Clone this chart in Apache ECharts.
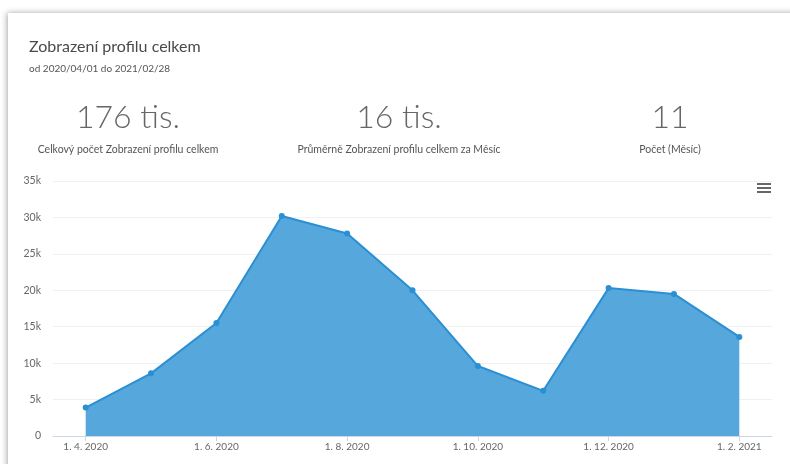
<!DOCTYPE html>
<html>
<head>
<meta charset="utf-8">
<script src="https://cdn.jsdelivr.net/npm/echarts@6/dist/echarts.min.js"></script>
<style>
html,body{margin:0;padding:0;background:#fff;}
#chart{width:790px;height:464px;}
</style>
</head>
<body>
<div id="chart"></div>
<script>
const months = ['1. 4. 2020','1. 5. 2020','1. 6. 2020','1. 7. 2020','1. 8. 2020','1. 9. 2020','1. 10. 2020','1. 11. 2020','1. 12. 2020','1. 1. 2021','1. 2. 2021'];
const views = [3900, 8600, 15500, 30200, 27800, 20000, 9600, 6200, 20300, 19500, 13600];
const yTicks = [0, 5000, 10000, 15000, 20000, 25000, 30000, 35000];
const titleText = 'Zobrazení profilu celkem';
const subtitleText = 'od 2020/04/01 do 2021/02/28';
const kpiValues = ['176 tis.', '16 tis.', '11'];
const kpiLabels = ['Celkový počet Zobrazení profilu celkem', 'Průměrně Zobrazení profilu celkem za Měsíc', 'Počet (Měsíc)'];
const kpiCenters = [128, 399, 670];

const chart = echarts.init(document.getElementById('chart'), null, {renderer: 'canvas'});
const FONT = 'Lato, "Noto Sans", sans-serif';

const titles = [
  {text: titleText, left: 29, top: 39, padding: 0, textStyle: {fontFamily: FONT, fontSize: 16, fontWeight: 'normal', color: '#4a4a4a'}},
  {text: subtitleText, left: 29, top: 64, padding: 0, textStyle: {fontFamily: FONT, fontSize: 10, fontWeight: 'normal', color: '#555'}}
];
kpiValues.forEach((v, i) => {
  titles.push({text: v, left: kpiCenters[i], top: 102, padding: 0, textAlign: 'center',
    textStyle: {fontFamily: FONT, fontSize: 32, fontWeight: 300, color: '#666'}});
  titles.push({text: kpiLabels[i], left: kpiCenters[i], top: 144, padding: 0, textAlign: 'center',
    textStyle: {fontFamily: FONT, fontSize: 10.5, fontWeight: 'normal', color: '#555'}});
});

chart.setOption({
  animation: false,
  backgroundColor: '#fff',
  title: titles,
  graphic: [
    {type: 'rect', z: -10, silent: true,
      shape: {x: 8, y: 13, width: 800, height: 470},
      style: {fill: '#fff', shadowBlur: 6, shadowColor: 'rgba(0,0,0,0.35)', shadowOffsetX: -1, shadowOffsetY: 0}},
    {type: 'group', left: 757, top: 183, children: [
      {type: 'rect', shape: {x: 0, y: 0, width: 14, height: 2}, style: {fill: '#666'}},
      {type: 'rect', shape: {x: 0, y: 4, width: 14, height: 2}, style: {fill: '#666'}},
      {type: 'rect', shape: {x: 0, y: 8, width: 14, height: 2}, style: {fill: '#666'}}
    ]}
  ],
  grid: {left: 53, right: 18, top: 181, bottom: 28, containLabel: false},
  xAxis: {
    type: 'category',
    data: months,
    boundaryGap: true,
    axisLine: {lineStyle: {color: '#ccd6eb'}},
    axisTick: {show: true, interval: 1, alignWithLabel: true, length: 5, lineStyle: {color: '#ccd6eb'}},
    axisLabel: {interval: 1, color: '#666', fontSize: 10, fontFamily: FONT, margin: 6}
  },
  yAxis: {
    type: 'value',
    min: yTicks[0],
    max: yTicks[yTicks.length - 1],
    interval: 5000,
    axisLine: {show: false},
    axisTick: {show: false},
    splitLine: {lineStyle: {color: '#eef0f3'}},
    axisLabel: {color: '#666', fontSize: 10.5, fontFamily: FONT, margin: 12,
      formatter: v => v === 0 ? '0' : (v / 1000) + 'k'}
  },
  series: [{
    type: 'line',
    data: views,
    symbol: 'circle',
    symbolSize: 6,
    itemStyle: {color: '#2b8fd4'},
    lineStyle: {color: '#2b8fd4', width: 2},
    areaStyle: {color: '#55a7dc', opacity: 1}
  }]
});
</script>
</body>
</html>
